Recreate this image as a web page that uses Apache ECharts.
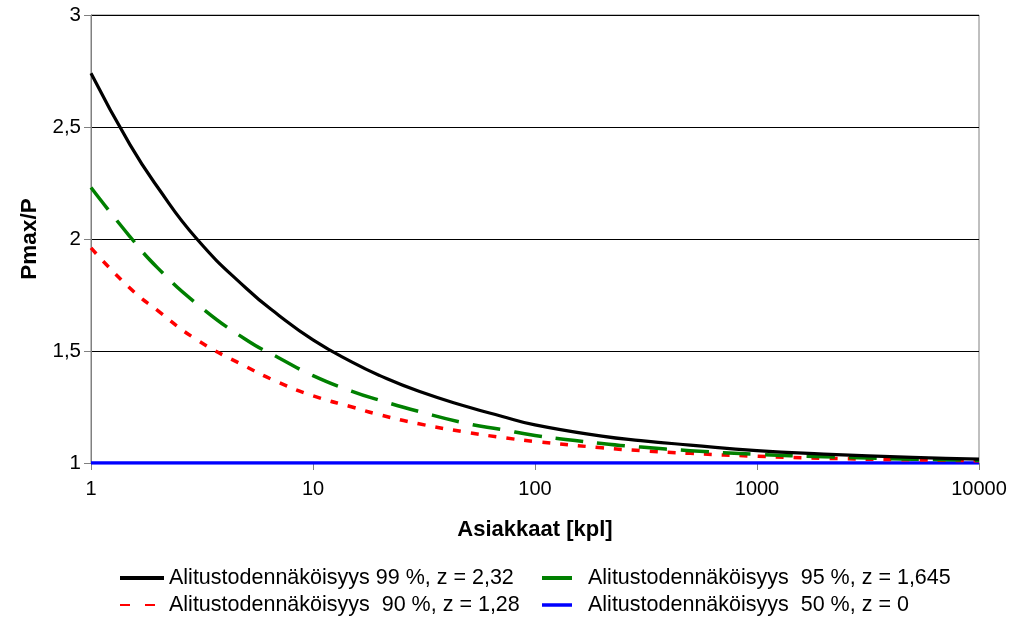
<!DOCTYPE html>
<html>
<head>
<meta charset="utf-8">
<script src="https://cdn.jsdelivr.net/npm/echarts@6/dist/echarts.min.js"></script>
<style>
html,body{margin:0;padding:0;background:#fff}
#main{width:1015px;height:623px}
</style>
</head>
<body>
<div id="main"></div>
<script>
// asiakasmäärät (x) ja luetut Pmax/P arvot
var asiakkaat = [1, 1.5, 2, 3, 5, 7, 10, 15, 20, 30, 50, 70, 100, 200, 300, 500, 1000, 2000, 5000, 10000];
var p99 = [2.74, 2.42, 2.23, 2.0, 1.78, 1.66, 1.55, 1.45, 1.39, 1.32, 1.25, 1.21, 1.17, 1.12, 1.10, 1.08, 1.055, 1.04, 1.025, 1.017];
var p95 = [2.23, 2.01, 1.87, 1.71, 1.55, 1.47, 1.39, 1.32, 1.28, 1.23, 1.175, 1.15, 1.123, 1.087, 1.071, 1.055, 1.039, 1.028, 1.017, 1.012];
var p90 = [1.96, 1.78, 1.68, 1.55, 1.43, 1.36, 1.30, 1.25, 1.215, 1.175, 1.136, 1.115, 1.096, 1.068, 1.055, 1.043, 1.03, 1.021, 1.014, 1.01];
var p50 = [1, 1, 1, 1, 1, 1, 1, 1, 1, 1, 1, 1, 1, 1, 1, 1, 1, 1, 1, 1];
var nimet = [
  'Alitustodennäköisyys 99 %, z = 2,32',
  'Alitustodennäköisyys  95 %, z = 1,645',
  'Alitustodennäköisyys  90 %, z = 1,28',
  'Alitustodennäköisyys  50 %, z = 0'
];

function pairs(ys) {
  return asiakkaat.map(function (x, i) { return [x, ys[i]]; });
}

var myChart = echarts.init(document.getElementById('main'));
var fontF = 'Liberation Sans, Arial, sans-serif';
var noSymbol = {opacity: 0};
var option = {
  backgroundColor: '#fff',
  animation: false,
  textStyle: {fontFamily: fontF, color: '#000'},
  grid: {
    left: 91, right: 36, top: 15, bottom: 160,
    show: true, borderColor: '#808080', borderWidth: 1
  },
  legend: [
    {
      orient: 'vertical', left: 118, top: 567, height: 56, padding: 0, itemGap: 5,
      itemWidth: 44, itemHeight: 14,
      textStyle: {fontSize: 21.5, lineHeight: 22, fontFamily: fontF, color: '#000'},
      data: [
        {name: nimet[0], lineStyle: {type: 'solid', width: 4}, itemStyle: noSymbol},
        {name: nimet[2], lineStyle: {type: [10, 15]}, itemStyle: noSymbol}
      ]
    },
    {
      orient: 'vertical', left: 540, top: 567, height: 56, padding: 0, itemGap: 5,
      itemWidth: 30, itemHeight: 14,
      textStyle: {fontSize: 21.5, lineHeight: 22, fontFamily: fontF, color: '#000', padding: [0, 0, 0, 11]},
      data: [
        {name: nimet[1], lineStyle: {type: 'solid', width: 4}, itemStyle: noSymbol},
        {name: nimet[3], lineStyle: {type: 'solid', width: 3.5}, itemStyle: noSymbol}
      ]
    }
  ],
  xAxis: {
    type: 'log',
    logBase: 10,
    min: 1,
    max: 10000,
    name: 'Asiakkaat [kpl]',
    nameLocation: 'middle',
    nameGap: 56,
    nameTextStyle: {fontSize: 22, fontWeight: 'bold', color: '#000', fontFamily: fontF},
    axisLine: {lineStyle: {color: '#808080'}},
    axisTick: {inside: false, length: 7, lineStyle: {color: '#808080'}},
    axisLabel: {
      fontSize: 20, color: '#000', margin: 16, fontFamily: fontF,
      formatter: function (v) { return String(Math.round(v)); }
    },
    splitLine: {show: false},
    minorTick: {show: false}
  },
  yAxis: {
    type: 'value',
    min: 1,
    max: 3,
    interval: 0.5,
    name: 'Pmax/P',
    nameLocation: 'middle',
    nameGap: 50,
    nameTextStyle: {fontSize: 22.5, fontWeight: 'bold', color: '#000', fontFamily: fontF},
    axisLine: {show: true, lineStyle: {color: '#808080'}},
    axisTick: {show: true, length: 7, lineStyle: {color: '#808080'}},
    axisLabel: {
      fontSize: 20.5, color: '#000', margin: 10, fontFamily: fontF,
      formatter: function (v) { return String(v).replace('.', ','); }
    },
    splitLine: {lineStyle: {color: '#000', width: 1}}
  },
  series: [
    {
      name: nimet[3], type: 'line', data: pairs(p50), symbol: 'none', smooth: true,
      lineStyle: {color: '#0000ff', width: 3.5}, itemStyle: {color: '#0000ff'}, z: 1
    },
    {
      name: nimet[2], type: 'line', data: pairs(p90), symbol: 'none', smooth: true,
      lineStyle: {color: '#ff0000', width: 3.5, type: [8, 10]}, itemStyle: {color: '#ff0000'}, z: 2
    },
    {
      name: nimet[1], type: 'line', data: pairs(p95), symbol: 'none', smooth: true,
      lineStyle: {color: '#008000', width: 3.5, type: [28, 14]}, itemStyle: {color: '#008000'}, z: 3
    },
    {
      name: nimet[0], type: 'line', data: pairs(p99), symbol: 'none', smooth: true,
      lineStyle: {color: '#000000', width: 3.2}, itemStyle: {color: '#000000'}, z: 4
    }
  ]
};
myChart.setOption(option);
</script>
</body>
</html>
